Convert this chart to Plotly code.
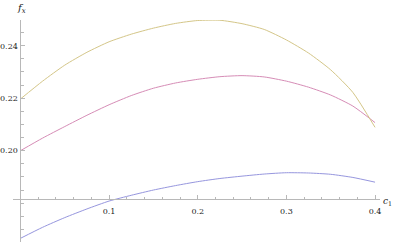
import plotly.graph_objects as go

x_vals = [0.000, 0.025, 0.050, 0.075, 0.100, 0.125, 0.150, 0.175, 0.200,
          0.225, 0.250, 0.275, 0.300, 0.325, 0.350, 0.375, 0.400]

blue_vals = [0.1666, 0.1708, 0.1745, 0.1778, 0.1808, 0.1830, 0.1850, 0.1867, 0.1882,
             0.1894, 0.1903, 0.1911, 0.1916, 0.1915, 0.1910, 0.1898, 0.1880]
pink_vals = [0.2000, 0.2048, 0.2092, 0.2135, 0.2175, 0.2210, 0.2238, 0.2258, 0.2272,
             0.2282, 0.2286, 0.2281, 0.2265, 0.2242, 0.2212, 0.2170, 0.2107]
yellow_vals = [0.2197, 0.2265, 0.2326, 0.2375, 0.2415, 0.2444, 0.2467, 0.2485, 0.2496,
               0.2497, 0.2484, 0.2462, 0.2422, 0.2372, 0.2308, 0.2222, 0.2089]

x_major = [0.1, 0.2, 0.3, 0.4]
x_labels = ["0.1", "0.2", "0.3", "0.4"]
x_minor = [0.02, 0.04, 0.06, 0.08, 0.12, 0.14, 0.16, 0.18, 0.22, 0.24, 0.26, 0.28,
           0.32, 0.34, 0.36, 0.38]
y_major = [0.20, 0.22, 0.24]
y_labels = ["0.20", "0.22", "0.24"]
y_minor = [0.165, 0.170, 0.175, 0.180, 0.185, 0.190, 0.195, 0.205, 0.210, 0.215,
           0.225, 0.230, 0.235, 0.245]

colors = ["rgb(150,150,222)", "rgb(214,140,182)", "rgb(212,198,136)"]
series = [blue_vals, pink_vals, yellow_vals]

X_RANGE = [-0.0084, 0.4056]
Y_RANGE = [0.1652, 0.2498]
X_AXIS_AT = 0.1815
Y_AXIS_AT = 0.0

SERIF = "DejaVu Serif"

fig = go.Figure()
for vals, col in zip(series, colors):
    fig.add_trace(go.Scatter(x=x_vals, y=vals, mode="lines",
                             line=dict(color=col, width=1, shape="spline", smoothing=0.6),
                             hoverinfo="skip", showlegend=False))

font = dict(family=SERIF, size=8, color="#222")
axis_col = "#b8b8b8"

fig.update_layout(
    width=394, height=243,
    margin=dict(l=13, r=14, t=20, b=1),
    paper_bgcolor="white", plot_bgcolor="white",
    showlegend=False,
    font=dict(family=SERIF),
    xaxis=dict(range=X_RANGE, showgrid=False, zeroline=False,
               anchor="free",
               position=(X_AXIS_AT - Y_RANGE[0]) / (Y_RANGE[1] - Y_RANGE[0]),
               showline=True, linecolor=axis_col, linewidth=1,
               tickmode="array", tickvals=x_major, ticktext=x_labels,
               ticks="inside", ticklen=4, tickcolor=axis_col, tickwidth=1,
               minor=dict(tickmode="array", tickvals=x_minor, ticks="inside",
                          ticklen=2.5, tickcolor=axis_col, tickwidth=1, showgrid=False),
               tickfont=font, automargin=False, ticklabelstandoff=4),
    yaxis=dict(range=Y_RANGE, showgrid=False, zeroline=False,
               anchor="free",
               position=(Y_AXIS_AT - X_RANGE[0]) / (X_RANGE[1] - X_RANGE[0]),
               showline=True, linecolor=axis_col, linewidth=1,
               tickmode="array", tickvals=y_major, ticktext=y_labels,
               ticks="inside", ticklen=4, tickcolor=axis_col, tickwidth=1,
               minor=dict(tickmode="array", tickvals=y_minor, ticks="inside",
                          ticklen=2.5, tickcolor=axis_col, tickwidth=1, showgrid=False),
               tickfont=font, automargin=False, ticklabelstandoff=1),
    annotations=[
        dict(text="<i>f</i><sub><i>x</i></sub>", xref="paper", yref="paper",
             x=(15 - 13) / 367, y=(242 - 0) / 222, xanchor="left", yanchor="top",
             showarrow=False, font=dict(family=SERIF, size=10, color="#222")),
        dict(text="<i>c</i><sub>1</sub>", xref="paper", yref="paper",
             x=(381 - 13) / 367, y=(242 - 201) / 222, xanchor="left", yanchor="middle",
             showarrow=False, font=dict(family=SERIF, size=9, color="#222")),
    ],
)

fig.write_html("out.html", config={"displayModeBar": False, "staticPlot": True},
               post_script="document.body.style.margin='0px';document.body.style.padding='0px';")
